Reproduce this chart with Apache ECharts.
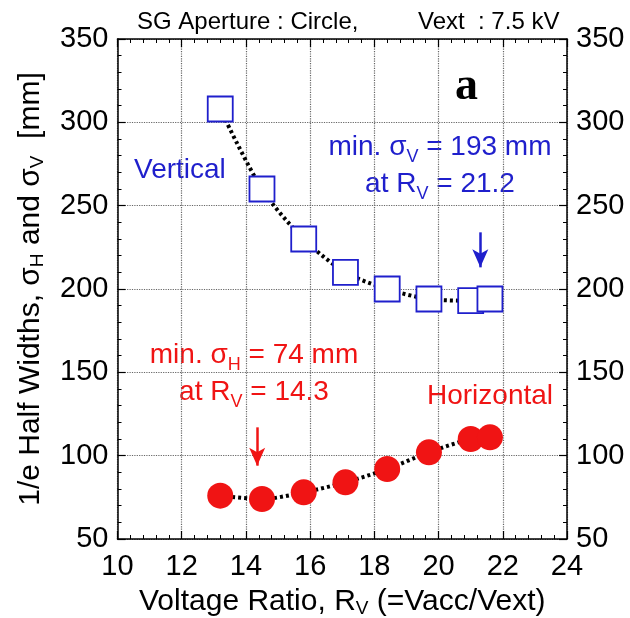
<!DOCTYPE html>
<html>
<head>
<meta charset="utf-8">
<script src="https://cdn.jsdelivr.net/npm/echarts@6/dist/echarts.min.js"></script>
<style>
  html, body { margin: 0; padding: 0; background: #fff; }
  #chart { width: 630px; height: 618px; }
</style>
</head>
<body>
<div id="chart"></div>
<script>
// data
var rvValues = [13.2, 14.5, 15.8, 17.1, 18.4, 19.7, 21.0, 21.6];
var sigmaV = [308, 260, 230, 210, 200, 194, 193, 194];
var sigmaH = [76, 74, 78, 84, 92, 102, 110, 111];
var xTicks = [10, 12, 14, 16, 18, 20, 22, 24];
var yTicks = [50, 100, 150, 200, 250, 300, 350];
// arrow marks: [rv, from, to]
var arrowV = [21.3, 234, 213];
var arrowH = [14.35, 117, 94];

var FONT = '"Liberation Sans", Arial, Helvetica, sans-serif';
var BLUE = '#1f1fcc';
var RED = '#f01414';

function pairs(xs, ys) {
  return xs.map(function (x, i) { return [x, ys[i]]; });
}

var chart = echarts.init(document.getElementById('chart'));

function xAxisBase(pos, showLabel) {
  return {
    type: 'value',
    position: pos,
    min: xTicks[0],
    max: xTicks[xTicks.length - 1],
    interval: 2,
    axisLine: { show: true, onZero: false, lineStyle: { color: '#000', width: 1.5 } },
    axisTick: { show: true, inside: true, length: 8, lineStyle: { color: '#000', width: 1.2 } },
    minorTick: { show: true, splitNumber: 5, length: 4, lineStyle: { color: '#000', width: 1 } },
    splitLine: { show: showLabel, lineStyle: { color: '#666', type: 'dotted', width: 1.2 } },
    axisLabel: { show: showLabel, color: '#000', fontSize: 29, fontFamily: FONT, margin: 13 }
  };
}

function yAxisBase(pos, showGrid) {
  return {
    type: 'value',
    position: pos,
    min: yTicks[0],
    max: yTicks[yTicks.length - 1],
    interval: 50,
    axisLine: { show: true, onZero: false, lineStyle: { color: '#000', width: 1.5 } },
    axisTick: { show: true, inside: true, length: 8, lineStyle: { color: '#000', width: 1.2 } },
    minorTick: { show: true, splitNumber: 5, length: 4, lineStyle: { color: '#000', width: 1 } },
    splitLine: { show: showGrid, lineStyle: { color: '#666', type: 'dotted', width: 1.2 } },
    axisLabel: { show: true, color: '#000', fontSize: 29, fontFamily: FONT, margin: 9 }
  };
}

var xBottom = xAxisBase('bottom', true);
xBottom.name = 'Voltage Ratio, R{s|V} (=Vacc/Vext)';
xBottom.nameLocation = 'middle';
xBottom.nameGap = 46;
xBottom.nameTextStyle = {
  color: '#000', fontSize: 30, fontFamily: FONT,
  rich: { s: { fontSize: 19, fontFamily: FONT, color: '#000', verticalAlign: 'bottom', padding: [14, 0, 0, 0] } }
};

var yLeft = yAxisBase('left', true);
yLeft.name = '1/e Half Widths, σ{s|H} and σ{s|V}  [mm]';
yLeft.nameLocation = 'middle';
yLeft.nameGap = 70;
yLeft.nameTextStyle = {
  color: '#000', fontSize: 30, fontFamily: FONT,
  rich: { s: { fontSize: 19, fontFamily: FONT, color: '#000', verticalAlign: 'bottom', padding: [14, 0, 0, 0] } }
};

var subStyle = function (color) {
  return {
    m: { fontSize: 28, fontFamily: FONT, fill: color, lineHeight: 37 },
    s: { fontSize: 18, fontFamily: FONT, fill: color, verticalAlign: 'bottom', padding: [14, 0, 0, 0] }
  };
};

var option = {
  animation: false,
  backgroundColor: '#fff',
  grid: { left: 117.5, right: 63, top: 39, bottom: 79, outerBoundsMode: 'none', containLabel: false },
  xAxis: [xBottom, xAxisBase('top', false)],
  yAxis: [yLeft, yAxisBase('right', false)],
  graphic: [
    { type: 'text', left: 137, top: 10, style: { text: 'SG Aperture : Circle,', fontSize: 24, fontFamily: FONT, fill: '#000' } },
    { type: 'text', left: 418, top: 10, style: { text: 'Vext  : 7.5 kV', fontSize: 24, fontFamily: FONT, fill: '#000' } },
    { type: 'text', left: 455, top: 64, style: { text: 'a', fontSize: 46, fontWeight: 'bold', fontFamily: '"Liberation Serif", "Times New Roman", serif', fill: '#000' } },
    { type: 'text', left: 134, top: 156, style: { text: 'Vertical', fontSize: 28, fontFamily: FONT, fill: BLUE } },
    { type: 'text', x: 490, y: 382, style: { text: 'Horizontal', fontSize: 28, fontFamily: FONT, fill: RED, align: 'center' } },
    { type: 'text', x: 440, y: 129, style: { text: '{m|min. σ}{s|V}{m| = 193 mm}\n{m|at R}{s|V}{m| = 21.2}', align: 'center', rich: subStyle(BLUE) } },
    { type: 'text', x: 254, y: 337, style: { text: '{m|min. σ}{s|H}{m| = 74 mm}\n{m|at R}{s|V}{m| = 14.3}', align: 'center', rich: subStyle(RED) } }
  ],
  series: [
    {
      name: 'Vertical',
      type: 'line',
      data: pairs(rvValues, sigmaV),
      smooth: 0.3,
      symbol: 'rect',
      symbolSize: 25,
      itemStyle: { color: '#fff', borderColor: BLUE, borderWidth: 1.8 },
      lineStyle: { color: '#000', width: 4, type: [3, 3] },
      markLine: {
        silent: true,
        symbol: ['none', 'arrow'],
        symbolSize: [12, 18],
        label: { show: false },
        lineStyle: { color: BLUE, width: 2.5, type: 'solid' },
        data: [[{ coord: [arrowV[0], arrowV[1]] }, { coord: [arrowV[0], arrowV[2]] }]]
      }
    },
    {
      name: 'Horizontal',
      type: 'line',
      data: pairs(rvValues, sigmaH),
      smooth: 0.3,
      symbol: 'circle',
      symbolSize: 26,
      itemStyle: { color: RED },
      lineStyle: { color: '#000', width: 4, type: [3, 3] },
      markLine: {
        silent: true,
        symbol: ['none', 'arrow'],
        symbolSize: [12, 18],
        label: { show: false },
        lineStyle: { color: RED, width: 2.5, type: 'solid' },
        data: [[{ coord: [arrowH[0], arrowH[1]] }, { coord: [arrowH[0], arrowH[2]] }]]
      }
    }
  ]
};

chart.setOption(option);
</script>
</body>
</html>
